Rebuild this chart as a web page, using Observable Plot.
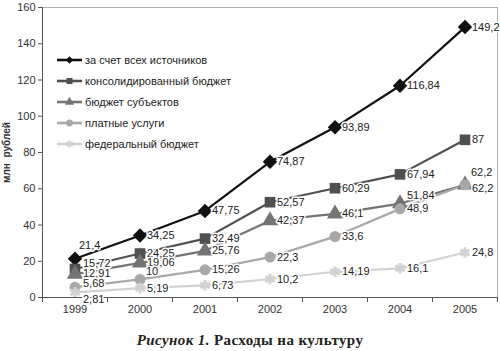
<!DOCTYPE html>
<html><head><meta charset="utf-8">
<script src="https://cdn.jsdelivr.net/npm/d3@7"></script>
<script src="https://cdn.jsdelivr.net/npm/@observablehq/plot@0.6"></script>
<style>
body{margin:0;background:#fff;}
#wrap{position:relative;width:500px;height:351px;font-family:"Liberation Sans",Arial,sans-serif;overflow:hidden;}
#legend{position:absolute;left:56px;top:49px;}
.item{display:flex;align-items:center;height:21px;font-size:11px;color:#222;}
.item svg{margin-right:2px;}
#cap{position:absolute;left:0;top:332px;width:500px;text-align:center;font-family:"Liberation Serif","DejaVu Serif",serif;font-weight:bold;font-size:15px;color:#222;letter-spacing:0.4px;}
</style></head><body>
<div id="wrap"><div id="chart"></div><div id="legend"></div><div id="cap"><i>Рисунок 1.</i> Расходы на культуру</div></div>
<script>
const years = [1999, 2000, 2001, 2002, 2003, 2004, 2005];
const seriesNames = ["за счет всех источников", "консолидированный бюджет", "бюджет субъектов", "платные услуги", "федеральный бюджет"];
const allSources = [21.4, 34.25, 47.75, 74.87, 93.89, 116.84, 149.2];
const consolidated = [15.72, 24.25, 32.49, 52.57, 60.29, 67.94, 87];
const regional = [12.91, 19.06, 25.76, 42.37, 46.1, 51.84, 62.2];
const paid = [5.68, 10, 15.26, 22.3, 33.6, 48.9, 62.2];
const federal = [2.81, 5.19, 6.73, 10.2, 14.19, 16.1, 24.8];
const yTicks = [0, 20, 40, 60, 80, 100, 120, 140, 160];

const seriesValues = [allSources, consolidated, regional, paid, federal];
const colors = ["#111111", "#505050", "#747474", "#a8a8a8", "#d2d2d2"];
const symbols = ["diamond2", "square", "triangle", "circle", "asterisk"];

// label placement tweaks (series index, year) -> [dx, dy]
const nudge = {
  "0-1999": [4, -13],
  "1-1999": [8, -6],
  "2-1999": [8, -1],
  "3-1999": [8, -4],
  "4-1999": [8, 7],
  "3-2000": [6, -8],
  "2-2004": [7, -8],
  "2-2005": [6, -12],
  "3-2005": [7, 4]
};

const rows = [];
seriesValues.forEach((vals, s) => vals.forEach((v, i) => {
  const n = nudge[s + "-" + years[i]] || [7, 0];
  rows.push({s, name: seriesNames[s], year: years[i], value: v,
    label: String(v).replace(".", ","), dx: n[0], dy: n[1]});
}));

const boundaries = d3.range(years.length + 1).map(i => years[0] - 0.5 + i);
const xDomain = [years[0] - 0.5, years[years.length - 1] + 0.5];

const marks = [
  Plot.ruleY([yTicks[yTicks.length - 1]], {stroke: "#b0b0b0"}),
  Plot.ruleX([xDomain[1]], {stroke: "#b0b0b0"}),
  Plot.axisY(yTicks, {tickSize: 4, stroke: "#555", tickPadding: 3, fontSize: 11, fill: "#333",
    label: "млн  рублей", labelAnchor: "center", labelArrow: "none", labelOffset: 40}),
  Plot.axisX(boundaries, {tickSize: 5, stroke: "#555", tickFormat: () => "", label: null}),
  Plot.axisX(years, {tickSize: 0, tickPadding: 8, fontSize: 11, fill: "#333", tickFormat: d => String(d), label: null}),
];
seriesValues.forEach((vals, s) => {
  const data = rows.filter(r => r.s === s);
  marks.push(Plot.line(data, {x: "year", y: "value", stroke: colors[s], strokeWidth: 2.2}));
});
seriesValues.forEach((vals, s) => {
  const data = rows.filter(r => r.s === s);
  const sym = symbols[s];
  if (sym === "asterisk") {
    marks.push(Plot.dot(data, {x: "year", y: "value", symbol: sym, stroke: colors[s], strokeWidth: 3, r: 5}));
  } else {
    marks.push(Plot.dot(data, {x: "year", y: "value", symbol: sym, fill: colors[s], stroke: "none",
      r: sym === "circle" ? 5.5 : sym === "diamond2" ? 6.5 : 6}));
  }
});
marks.push(Plot.ruleX([xDomain[0]], {stroke: "#555"}));
marks.push(Plot.ruleY([0], {stroke: "#555"}));
rows.forEach(r => {
  marks.push(Plot.text([r], {x: "year", y: "value", text: "label", textAnchor: "start",
    dx: r.dx, dy: r.dy, fontSize: 11, fill: "#222", stroke: "white", strokeWidth: 3}));
});

const chart = Plot.plot({
  width: 500, height: 322,
  marginLeft: 42, marginRight: 3, marginTop: 7, marginBottom: 25,
  style: {fontFamily: "'Liberation Sans', Arial, sans-serif", fontSize: "11px", background: "white"},
  x: {domain: xDomain, axis: null},
  y: {domain: [0, 160], axis: null},
  marks
});
document.getElementById("chart").appendChild(chart);
// bold y label
chart.querySelectorAll("[aria-label='y-axis label'] text, [aria-label='y-axis label']").forEach(t => {
  t.setAttribute("font-weight", "bold"); t.setAttribute("font-size", "10");
});

// legend
const legend = d3.select("#legend");
seriesNames.forEach((name, s) => {
  const item = legend.append("div").attr("class", "item");
  const svg = item.append("svg").attr("width", 27).attr("height", 12);
  svg.append("line").attr("x1", 1).attr("x2", 26).attr("y1", 6).attr("y2", 6)
    .attr("stroke", colors[s]).attr("stroke-width", 2.6);
  const symType = [d3.symbolDiamond2, d3.symbolSquare, d3.symbolTriangle, d3.symbolCircle, d3.symbolAsterisk][s];
  const p = svg.append("path").attr("transform", "translate(13.5,6)")
    .attr("d", d3.symbol(symType, s === 4 ? 40 : 36)());
  if (s === 4) p.attr("fill", "none").attr("stroke", colors[s]).attr("stroke-width", 2);
  else p.attr("fill", colors[s]);
  item.append("span").text(name);
});
</script>
</body></html>
